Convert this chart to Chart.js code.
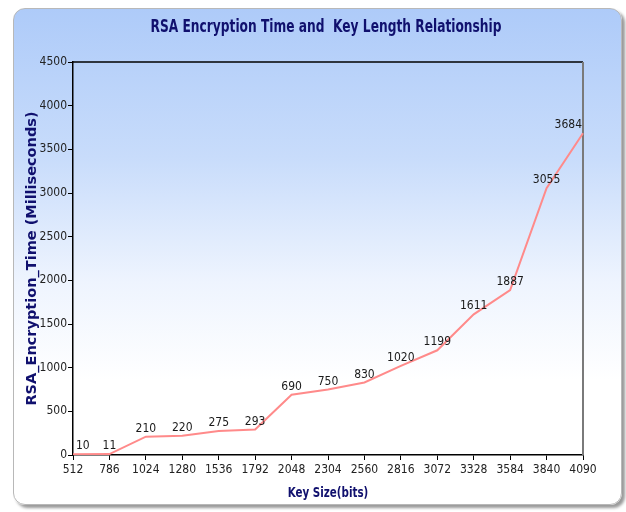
<!DOCTYPE html>
<html>
<head>
<meta charset="utf-8">
<script src="https://cdn.jsdelivr.net/npm/chart.js@4.4.1/dist/chart.umd.min.js"></script>
<style>
	html, body { margin: 0; padding: 0; background: #ffffff; }
	#Wrap { position: relative; width: 626px; height: 512px; }
	#Panel {
		position: absolute; left: 13px; top: 8px; width: 607px; height: 495px;
		border: 1px solid #b8b8b8; border-radius: 12px;
		background: linear-gradient(to bottom, #aecbf9 0%, #c8dcfb 30%, #eef4fe 55%, #ffffff 75%, #ffffff 100%);
		box-shadow: 3px 3px 3px #9a9a9a;
	}
	#RSAChart { position: absolute; left: 0; top: 0; }
</style>
</head>
<body>
<div id="Wrap">
	<div id="Panel"></div>
	<canvas id="RSAChart" width="626" height="512"></canvas>
</div>
<script>
const key_sizes = ["512", "786", "1024", "1280", "1536", "1792", "2048", "2304", "2560", "2816", "3072", "3328", "3584", "3840", "4090"];
const encryption_times = [10, 11, 210, 220, 275, 293, 690, 750, 830, 1020, 1199, 1611, 1887, 3055, 3684];
const y_max = 4500;
const y_step = 500;

const chart_title = "RSA Encryption Time and  Key Length Relationship";
const x_title = "Key Size(bits)";
const y_title = "RSA_Encryption_Time (Milliseconds)";

const navy = "#10106e";
const tick_font = { family: "'DejaVu Sans Condensed', sans-serif", size: 12 };

// draws the value above each point, kept inside the plot box
const point_labels = {
	id: "pointLabels",
	afterDatasetsDraw(chart) {
		const ctx = chart.ctx;
		const area = chart.chartArea;
		const meta = chart.getDatasetMeta(0);
		ctx.save();
		ctx.font = "12px 'DejaVu Sans Condensed', sans-serif";
		ctx.fillStyle = "#1a1a1a";
		ctx.textBaseline = "bottom";
		meta.data.forEach(function (pt, i) {
			let text = String(encryption_times[i]);
			let w = ctx.measureText(text).width;
			let x = pt.x - w / 2;
			if (x < area.left + 3) x = area.left + 3;
			if (x + w > area.right - 1) x = area.right - 1 - w;
			ctx.fillText(text, x, pt.y - 2);
		});
		ctx.restore();
	},
};

// narrow bold titles (no narrow bold face installed, so squeeze the text)
function squeezed_text(ctx, text, cx, cy, size, squeeze) {
	ctx.save();
	ctx.font = "bold " + size + "px 'DejaVu Sans Condensed', sans-serif";
	ctx.fillStyle = navy;
	ctx.textAlign = "center";
	ctx.textBaseline = "middle";
	ctx.translate(cx, cy);
	ctx.scale(squeeze, 1);
	ctx.fillText(text, 0, 0);
	ctx.restore();
}

const titles = {
	id: "titles",
	afterDraw(chart) {
		const ctx = chart.ctx;
		const a = chart.chartArea;
		squeezed_text(ctx, chart_title, 326, 28, 17, 0.8);
		squeezed_text(ctx, x_title, (a.left + a.right) / 2, 493, 14, 0.82);
	},
};

// top and right edges of the plot box
const plot_box = {
	id: "plotBox",
	beforeDatasetsDraw(chart) {
		const ctx = chart.ctx;
		const a = chart.chartArea;
		ctx.save();
		ctx.strokeStyle = "#000000";
		ctx.lineWidth = 1.5;
		ctx.beginPath();
		ctx.moveTo(a.left, a.top);
		ctx.lineTo(a.right, a.top);
		ctx.stroke();
		ctx.strokeStyle = "#7a7a7a";
		ctx.lineWidth = 2;
		ctx.beginPath();
		ctx.moveTo(a.right, a.top);
		ctx.lineTo(a.right, a.bottom);
		ctx.stroke();
		ctx.restore();
	},
};

new Chart(document.getElementById("RSAChart").getContext("2d"), {
	type: "line",
	data: {
		labels: key_sizes,
		datasets: [
			{
				data: encryption_times,
				borderColor: "#ff8a8a",
				borderWidth: 2,
				pointRadius: 0,
				tension: 0,
				fill: false,
			},
		],
	},
	options: {
		responsive: false,
		animation: false,
		layout: { padding: { left: 18, top: 62, right: 43, bottom: 7 } },
		plugins: {
			legend: { display: false },
			tooltip: { enabled: false },
			title: { display: false },
		},
		scales: {
			x: {
				offset: false,
				afterFit(scale) { scale.height = 50; },
				grid: { display: true, drawOnChartArea: false, drawTicks: true, tickLength: 5, tickColor: "#000000" },
				border: { display: true, color: "#000000", width: 1.5 },
				ticks: { color: "#222222", font: tick_font, padding: 3, maxRotation: 0, autoSkip: false },
			},
			y: {
				min: 0,
				max: y_max,
				afterFit(scale) { scale.width = 55; },
				grid: { display: true, drawOnChartArea: false, drawTicks: true, tickLength: 5, tickColor: "#000000" },
				border: { display: true, color: "#000000", width: 1.5 },
				ticks: {
					stepSize: y_step,
					color: "#222222",
					font: tick_font,
					padding: 1,
					callback: function (value) { return String(value); },
				},
				title: {
					display: true,
					text: y_title,
					color: navy,
					font: { family: "'DejaVu Sans', sans-serif", size: 14.5, weight: "bold" },
					padding: { top: 6, bottom: 0 },
				},
			},
		},
	},
	plugins: [plot_box, point_labels, titles],
});
</script>
</body>
</html>
